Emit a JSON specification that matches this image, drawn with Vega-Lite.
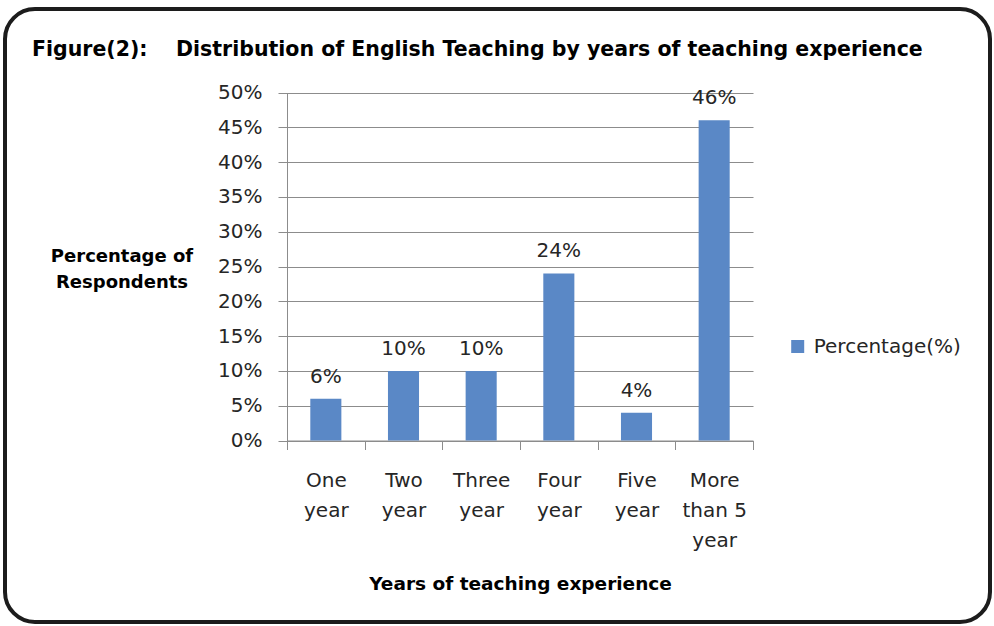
{
  "$schema": "https://vega.github.io/schema/vega-lite/v6.json",
  "autosize": "none",
  "padding": {"left": 5, "top": 9, "right": 4, "bottom": 4},
  "width": 985,
  "height": 613,
  "background": "white",
  "title": {
    "text": "Figure(2):\u00a0\u00a0\u00a0\u00a0Distribution of English Teaching by years of teaching experience",
    "anchor": "start",
    "frame": "group",
    "orient": "top",
    "offset": -67,
    "dx": 27,
    "baseline": "alphabetic",
    "font": "DejaVu Sans",
    "fontSize": 20.5,
    "fontWeight": "bold",
    "color": "#000000"
  },
  "data": {
    "values": [
      {"exp": "One year", "value": 0.06, "series": "Percentage(%)"},
      {"exp": "Two year", "value": 0.10, "series": "Percentage(%)"},
      {"exp": "Three year", "value": 0.10, "series": "Percentage(%)"},
      {"exp": "Four year", "value": 0.24, "series": "Percentage(%)"},
      {"exp": "Five year", "value": 0.04, "series": "Percentage(%)"},
      {"exp": "More than 5 year", "value": 0.46, "series": "Percentage(%)"}
    ]
  },
  "encoding": {
    "x": {
      "field": "exp",
      "type": "nominal",
      "sort": null,
      "scale": {"range": [282, 748], "padding": 0},
      "axis": {
        "orient": "bottom",
        "offset": -181.5,
        "tickBand": "extent",
        "tickSize": 9,
        "tickColor": "#8c8c8c",
        "domainColor": "#8c8c8c",
        "labelAngle": 0,
        "labelPadding": 21,
        "labelLineHeight": 30,
        "labelFont": "DejaVu Sans",
        "labelFontSize": 20,
        "labelColor": "#262626",
        "labelExpr": "datum.label == 'More than 5 year' ? ['More', 'than 5', 'year'] : split(datum.label, ' ')",
        "title": "Years of teaching experience",
        "titleY": 148.5,
        "titleBaseline": "alphabetic",
        "titleFont": "DejaVu Sans",
        "titleFontSize": 18.5,
        "titleFontWeight": "bold",
        "titleColor": "#000000",
        "grid": false
      }
    },
    "y": {
      "field": "value",
      "type": "quantitative",
      "scale": {"domain": [0, 0.5], "range": [431.5, 83.5], "nice": false},
      "axis": {
        "offset": -282,
        "values": [0, 0.05, 0.1, 0.15, 0.2, 0.25, 0.3, 0.35, 0.4, 0.45, 0.5],
        "format": ".0%",
        "tickSize": 9,
        "tickColor": "#8c8c8c",
        "domainColor": "#8c8c8c",
        "grid": true,
        "gridColor": "#8c8c8c",
        "gridWidth": 1,
        "labelPadding": 16,
        "labelFont": "DejaVu Sans",
        "labelFontSize": 20,
        "labelColor": "#262626",
        "title": ["Percentage of", "Respondents"],
        "titleAngle": 0,
        "titleX": -165.5,
        "titleY": 252,
        "titleAlign": "center",
        "titleBaseline": "alphabetic",
        "titleLineHeight": 26,
        "titleFont": "DejaVu Sans",
        "titleFontSize": 18,
        "titleFontWeight": "bold",
        "titleColor": "#000000"
      }
    }
  },
  "layer": [
    {
      "mark": {"type": "bar", "width": {"band": 0.4}},
      "encoding": {
        "color": {
          "field": "series",
          "type": "nominal",
          "scale": {"range": ["#5A88C6"]},
          "legend": {
            "orient": "none",
            "legendX": 782.7,
            "legendY": 327.5,
            "title": null,
            "symbolType": "square",
            "symbolSize": 169,
            "symbolStrokeWidth": 0,
            "labelFont": "DejaVu Sans",
            "labelFontSize": 20,
            "labelColor": "#262626",
            "labelOffset": 6,
            "padding": 0
          }
        }
      }
    },
    {
      "mark": {"type": "text", "dy": -16, "baseline": "alphabetic", "align": "center", "font": "DejaVu Sans", "fontSize": 20, "color": "#262626"},
      "encoding": {
        "text": {"field": "value", "type": "quantitative", "format": ".0%"}
      }
    }
  ],
  "config": {
    "view": {"stroke": "#1c1c1c", "strokeWidth": 4, "cornerRadius": 30, "fill": "white"}
  }
}
